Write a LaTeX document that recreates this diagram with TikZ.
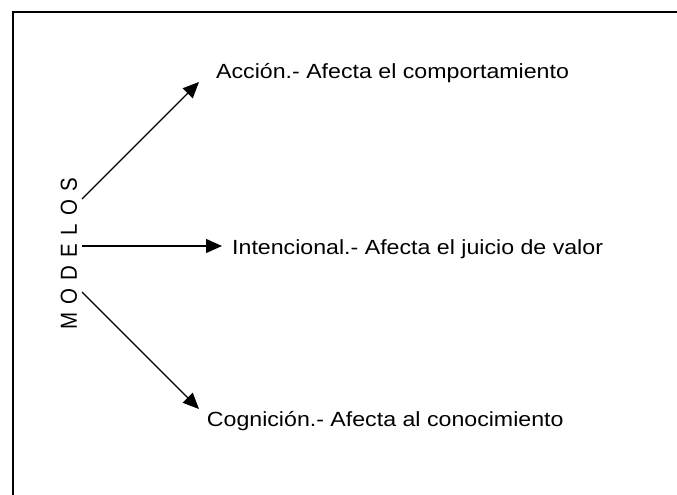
\documentclass[tikz,border=0pt]{standalone}
\usepackage{fontspec}
\usepackage{graphicx}
\setmainfont{Liberation Sans}
\usetikzlibrary{arrows.meta}
\newcommand{\wide}[1]{\scalebox{1.13}[1]{#1}}
\tikzset{
  frame/.style={line width=2pt, line cap=rect},
  conn/.style={line width=1.2pt, -{Triangle[length=16pt,width=14pt]}},
  lbl/.style={anchor=base west, inner sep=0pt, font=\fontsize{20.5}{24}\selectfont}
}
\begin{document}
\begin{tikzpicture}[x=1pt,y=-1pt]
\useasboundingbox (0,0) rectangle (677,495);
\coordinate (fa) at (12.5,495);
\coordinate (fb) at (12.5,12.5);
\coordinate (fc) at (677,12.5);
\draw[frame] (fa) -- (fb) -- (fc);
\node[lbl, anchor=center] (modelos) at (69,254) {\wide{\rotatebox{90}{\addfontfeature{LetterSpace=40}MODELOS}}};
\node[lbl] (accion) at (216,78) {\wide{Acción.- Afecta el comportamiento}};
\node[lbl] (intenc) at (232,254.3) {\wide{Intencional.- Afecta el juicio de valor}};
\node[lbl] (cogn) at (206.7,426.5) {\wide{Cognición.- Afecta al conocimiento}};
\coordinate (s1) at (82,199);
\coordinate (e1) at (199,82);
\coordinate (s2) at (82,246);
\coordinate (e2) at (222,246);
\coordinate (s3) at (82,292);
\coordinate (e3) at (199,409);
\draw[conn] (s1) -- (e1);
\draw[conn] (s2) -- (e2);
\draw[conn] (s3) -- (e3);
\end{tikzpicture}
\end{document}
